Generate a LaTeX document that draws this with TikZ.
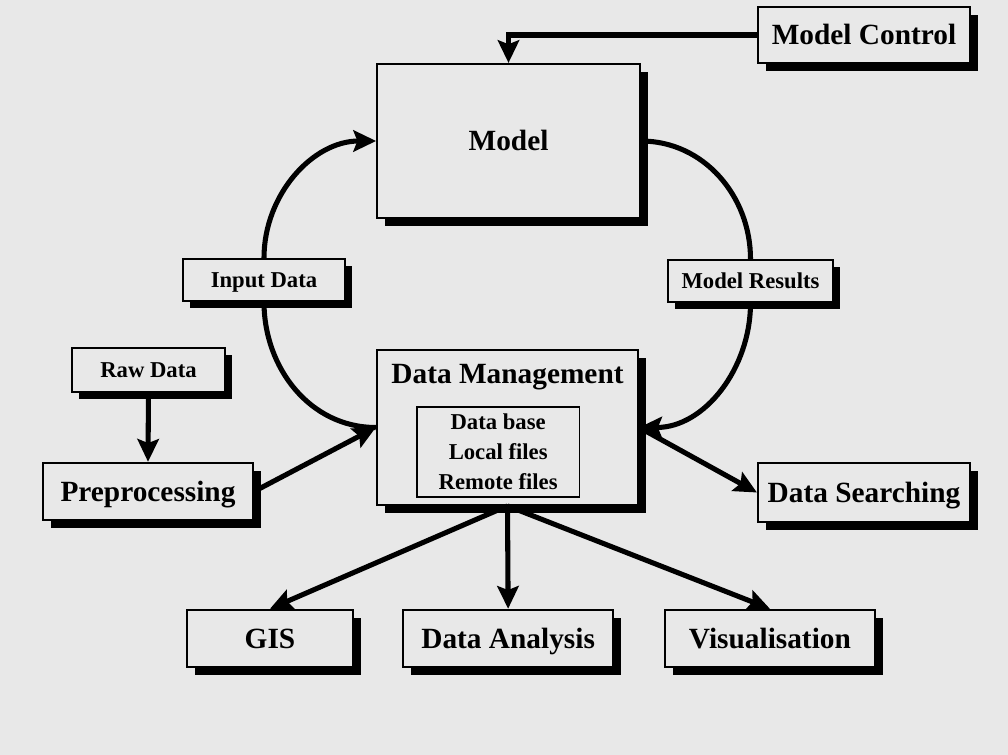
\documentclass[tikz,border=0pt]{standalone}
\usepackage{fontspec}
\setmainfont{Liberation Serif}
\usetikzlibrary{arrows.meta, positioning, shadows}

\definecolor{paper}{gray}{0.91}

\begin{document}
\begin{tikzpicture}[
        x=0.75pt, y=-0.75pt,
        frame/.style={draw=black, line width=1.6pt, fill=paper, inner sep=2pt, align=center},
        box/.style={frame, font=\bfseries\fontsize{22}{26}\selectfont, text height=14.5pt, text depth=0pt,
            drop shadow={shadow xshift=6pt, shadow yshift=-6pt, fill=black, opacity=1}},
        tag/.style={frame, font=\bfseries\fontsize{17}{20}\selectfont, text height=11.5pt, text depth=0pt,
            drop shadow={shadow xshift=5pt, shadow yshift=-5pt, fill=black, opacity=1}},
        filelist/.style={frame, line width=1.4pt, font=\bfseries\fontsize{17}{22.5}\selectfont},
        arrow/.style={line width=3.8pt, -{Stealth[length=17pt, width=16pt, inset=3pt]}},
        link/.style={line width=3.8pt}
    ]

    \fill[paper] (0,0) rectangle (1008,755);
    \useasboundingbox (0,0) rectangle (1008,755);

    % Model part
    \node[box, minimum width=159pt, minimum height=42pt] (ctrl) at (864,35) {Model Control};
    \node[box, minimum width=197pt, minimum height=115.5pt] (model) at (508.5,141) {Model};
    \node[tag, minimum width=121.5pt, minimum height=31.5pt] (inp) at (264,280) {Input Data};
    \node[tag, minimum width=124pt, minimum height=31.5pt] (res) at (750.5,281) {Model Results};

    % Data part
    \node[box, minimum width=196pt, minimum height=116pt] (dm) at (507.5,427.5) {};
    \node[font=\bfseries\fontsize{22}{26}\selectfont, inner sep=2pt, below=9pt of dm.north] (dmtitle) {Data Management};
    \node[filelist, minimum width=122pt, minimum height=67.5pt, below=10pt of dmtitle, xshift=-7pt] (files) {Data base\\Local files\\Remote files};

    \node[tag, minimum width=115pt, minimum height=33pt] (raw) at (148.5,370) {Raw Data};
    \node[box, minimum width=157.5pt, minimum height=43pt] (pre) at (148,491.5) {Preprocessing};
    \node[box, minimum width=159pt, minimum height=44pt] (search) at (864,492.5) {Data Searching};

    % Output part
    \node[box, minimum width=124.5pt, minimum height=43pt] (gis) at (270,638.5) {GIS};
    \node[box, minimum width=157.5pt, minimum height=43pt, right=36pt of gis] (ana) {Data Analysis};
    \node[box, minimum width=158pt, minimum height=43pt, right=37pt of ana] (vis) {Visualisation};

    % Arrows
    \draw[arrow] (ctrl.west) -| (model.north);
    \draw[arrow] (inp.north) to[out=90, in=180] (model.west);
    \draw[link] (dm.west) to[out=180, in=-90] (inp.south);
    \draw[link] (model.east) to[out=0, in=90] (res.north);
    \draw[arrow] (res.south) to[out=-90, in=0] (dm.east);
    \draw[arrow] (raw.south) -- (pre.north);
    \draw[arrow] (pre.east) -- (dm.west);
    \draw[arrow] (dm.east) -- (search.west);
    \draw[arrow] (dm.south) -- (gis.north);
    \draw[arrow] (dm.south) -- (ana.north);
    \draw[arrow] (dm.south) -- (vis.north);

\end{tikzpicture}
\end{document}
